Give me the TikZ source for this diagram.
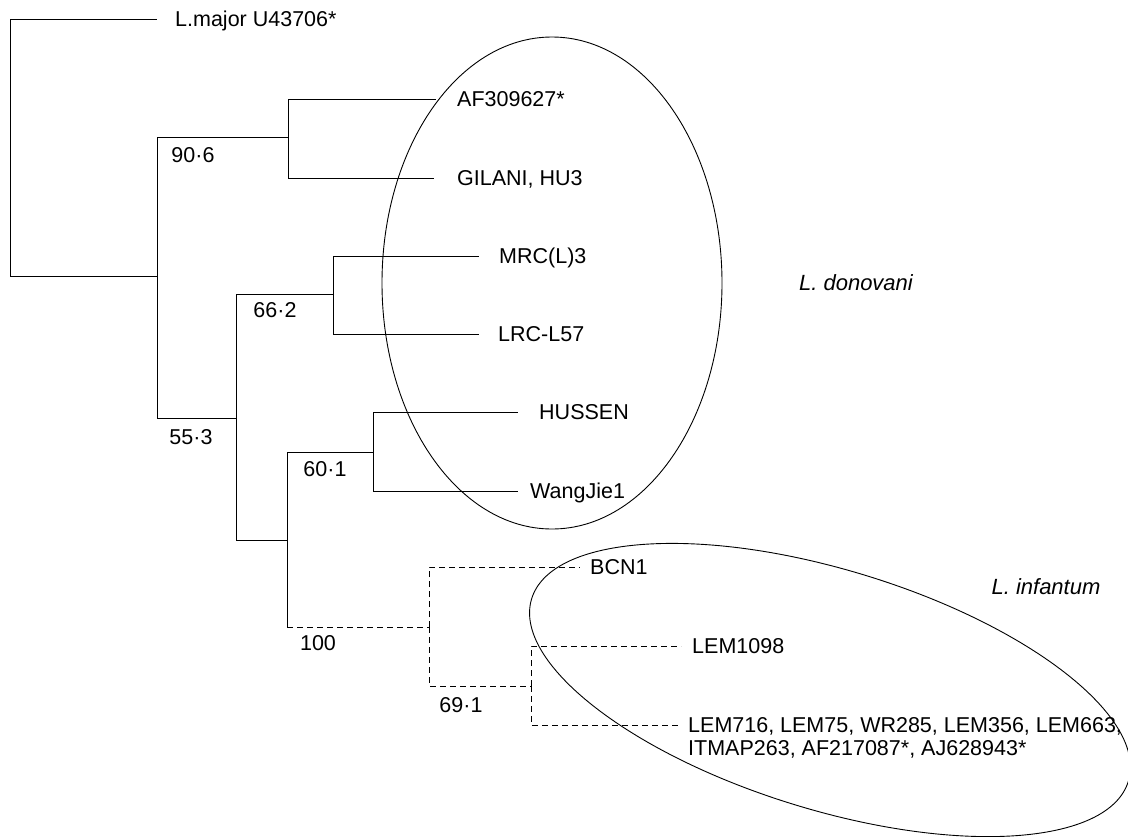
\documentclass[tikz,border=0pt]{standalone}
\usepackage{fontspec}
\setmainfont{Liberation Sans}
\usetikzlibrary{positioning}
\tikzset{
    branch/.style={line width=0.9pt},
    weakbranch/.style={line width=0.9pt, dash pattern=on 6pt off 4pt},
    tipname/.style={inner sep=0pt, anchor=west, font=\fontsize{21.5}{23}\selectfont,
        text height=15pt, text depth=0pt},
    tiplist/.style={inner sep=0pt, align=left, font=\fontsize{21.5}{23}\selectfont},
    boot/.style={inner sep=0pt, font=\fontsize{21.5}{23}\selectfont},
    species/.style={inner sep=0pt, font=\fontsize{22}{26}\selectfont\itshape},
    clade/.style={line width=0.9pt}
}

\begin{document}
\begin{tikzpicture}[x=1pt, y=-1pt]
\useasboundingbox (0,0) rectangle (1128,836);
\coordinate (tMaj) at (157,19);
\coordinate (tAF) at (436,99);
\coordinate (tGil) at (434,178);
\coordinate (tMRC) at (479,256);
\coordinate (tLRC) at (479,334);
\coordinate (tHus) at (518,412);
\coordinate (tWang) at (518,491);
\coordinate (tBCN) at (580,567);
\coordinate (tL1098) at (681,646);
\coordinate (tL716) at (681,725);
\coordinate (nRoot) at (10,148);
\coordinate (nA) at (157,276);
\coordinate (n906) at (288,137);
\coordinate (n553) at (236,418);
\coordinate (n662) at (333,294);
\coordinate (nB) at (287,540);
\coordinate (n601) at (373,452);
\coordinate (n100) at (429,627);
\coordinate (n691) at (531,686);
\node[tipname, right=18pt of tMaj] (lMaj) {L.major U43706*};
\node[tipname, right=21pt of tAF] (lAF) {AF309627*};
\node[tipname, right=23pt of tGil] (lGil) {GILANI, HU3};
\node[tipname, right=20pt of tMRC] (lMRC) {MRC(L)3};
\node[tipname, right=19pt of tLRC] (lLRC) {LRC-L57};
\node[tipname, right=21pt of tHus] (lHus) {HUSSEN};
\node[tipname, right=12pt of tWang] (lWang) {WangJie1};
\node[tipname, right=10pt of tBCN] (lBCN) {BCN1};
\node[tipname, right=11pt of tL1098] (lL1098) {LEM1098};
\node[tiplist, right=7pt of tL716, anchor=north west, yshift=7.7pt] (lL716)
    {LEM716, LEM75, WR285, LEM356, LEM663,\\ITMAP263, AF217087*, AJ628943*};
\node[boot] (b906) at (193,155) {90·6};
\node[boot] (b662) at (275,310) {66·2};
\node[boot] (b553) at (191,437) {55·3};
\node[boot] (b601) at (325,469) {60·1};
\node[boot] (b100) at (318,643) {100};
\node[boot] (b691) at (461,705) {69·1};
\node[species] (spDon) at (856,283) {L. donovani};
\node[species] (spInf) at (1046,587) {L. infantum};
\draw[branch] (nRoot) |- (tMaj) (nRoot) |- (nA);
\draw[branch] (nA) |- (n906) (nA) |- (n553);
\draw[branch] (n906) |- (tAF) (n906) |- (tGil);
\draw[branch] (n553) |- (n662) (n553) |- (nB);
\draw[branch] (n662) |- (tMRC) (n662) |- (tLRC);
\draw[branch] (nB) |- (n601) (nB) -- (nB |- n100);
\draw[branch] (n601) |- (tHus) (n601) |- (tWang);
\draw[weakbranch] (nB |- n100) -- (n100);
\draw[weakbranch] (n100) |- (tBCN) (n100) |- (n691);
\draw[weakbranch] (n691) |- (tL1098) (n691) |- (tL716);
\draw[clade] (552,283) ellipse [x radius=170, y radius=246];
\draw[clade, rotate around={-17:(830,690)}] (830,690) ellipse [x radius=312, y radius=120];
\end{tikzpicture}
\end{document}
